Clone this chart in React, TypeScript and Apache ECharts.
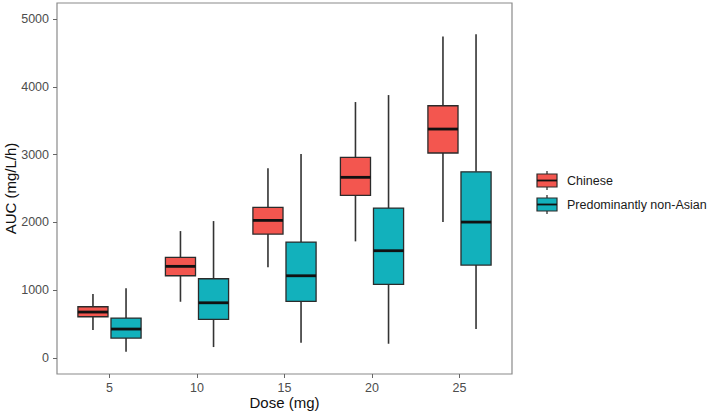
import React, { useEffect, useRef } from "react";
import * as echarts from "echarts";

const doses = [5, 10, 15, 20, 25];
const doseTicks = [5, 10, 15, 20, 25];
const aucTicks = [0, 1000, 2000, 3000, 4000, 5000];
// [low, q1, median, q3, high]
const chinese = [
  [409, 606, 675, 753, 941],
  [827, 1211, 1350, 1483, 1871],
  [1335, 1827, 2029, 2221, 2798],
  [1719, 2399, 2665, 2960, 3777],
  [2004, 3024, 3378, 3722, 4747],
];
const nonAsian = [
  [89, 291, 424, 586, 1025],
  [158, 567, 812, 1167, 2019],
  [222, 833, 1211, 1709, 3009],
  [207, 1084, 1581, 2211, 3880],
  [424, 1369, 2004, 2747, 4777],
];
const groupNames = ["Chinese", "Predominantly non-Asian"];
const groupColors = ["#F3564F", "#12B1BC"];

const FONT = "Liberation Sans, Arial, sans-serif";

function makeRender(offset: number, halfW: number, color: string) {
  return (params: any, api: any) => {
    const x = api.value(0) + offset;
    const low = api.value(1);
    const q1 = api.value(2);
    const med = api.value(3);
    const q3 = api.value(4);
    const high = api.value(5);
    const pHigh = api.coord([x, high]);
    const pQ3 = api.coord([x, q3]);
    const pQ1 = api.coord([x, q1]);
    const pLow = api.coord([x, low]);
    const pL = api.coord([x - halfW, q3]);
    const pR = api.coord([x + halfW, q1]);
    const pMedL = api.coord([x - halfW, med]);
    const pMedR = api.coord([x + halfW, med]);
    const stroke = "#2b2b2b";
    return {
      type: "group",
      children: [
        {
          type: "line",
          shape: { x1: pHigh[0], y1: pHigh[1], x2: pQ3[0], y2: pQ3[1] },
          style: { stroke: "#333", lineWidth: 1.6 },
        },
        {
          type: "line",
          shape: { x1: pQ1[0], y1: pQ1[1], x2: pLow[0], y2: pLow[1] },
          style: { stroke: "#333", lineWidth: 1.6 },
        },
        {
          type: "rect",
          shape: { x: pL[0], y: pL[1], width: pR[0] - pL[0], height: pR[1] - pL[1] },
          style: { fill: color, stroke: stroke, lineWidth: 1.3 },
        },
        {
          type: "line",
          shape: { x1: pMedL[0], y1: pMedL[1], x2: pMedR[0], y2: pMedR[1] },
          style: { stroke: "#111", lineWidth: 2.8 },
        },
      ],
    };
  };
}

function legendItem(y: number, color: string, label: string) {
  const x = 537;
  const w = 20;
  const h = 13;
  return {
    type: "group",
    children: [
      { type: "line", shape: { x1: x + w / 2, y1: y - h / 2 - 3, x2: x + w / 2, y2: y + h / 2 + 3 }, style: { stroke: "#333", lineWidth: 1.3 } },
      { type: "rect", shape: { x, y: y - h / 2, width: w, height: h }, style: { fill: color, stroke: "#2b2b2b", lineWidth: 1.2 } },
      { type: "line", shape: { x1: x, y1: y, x2: x + w, y2: y }, style: { stroke: "#111", lineWidth: 1.8 } },
      { type: "text", x: 567, y, style: { text: label, fill: "#1a1a1a", font: `12.5px ${FONT}`, verticalAlign: "middle", align: "left" } },
    ],
  };
}

export default function App() {
  const ref = useRef<HTMLDivElement>(null);
  useEffect(() => {
    const chart = echarts.init(ref.current!, null, { renderer: "svg" });
    const offset = 0.945;
    const halfW = 0.86;
    chart.setOption({
      animation: false,
      backgroundColor: "#ffffff",
      grid: {
        left: 57,
        right: 197,
        top: 3,
        bottom: 41,
        show: true,
        borderColor: "#8a8a8a",
        borderWidth: 1.2,
        backgroundColor: "#ffffff",
        outerBoundsMode: "none",
      },
      xAxis: {
        type: "value",
        min: 2,
        max: 28,
        name: "Dose (mg)",
        nameLocation: "middle",
        nameGap: 21,
        nameMoveOverlap: false,
        nameTextStyle: { fontFamily: FONT, fontSize: 15, color: "#111", verticalAlign: "top" },
        axisLine: { show: false, onZero: false },
        splitLine: { show: false },
        axisTick: { show: true, length: 4, lineStyle: { color: "#666" }, customValues: doseTicks },
        axisLabel: { fontFamily: FONT, fontSize: 12.5, color: "#4d4d4d", margin: 7, customValues: doseTicks, formatter: (v: number) => String(v) },
      },
      yAxis: {
        type: "value",
        min: -240,
        max: 5240,
        name: "AUC (mg/L/h)",
        nameLocation: "middle",
        nameGap: 39,
        nameMoveOverlap: false,
        nameTextStyle: { fontFamily: FONT, fontSize: 15, color: "#111", verticalAlign: "bottom" },
        axisLine: { show: false, onZero: false },
        splitLine: { show: false },
        axisTick: { show: true, length: 4, lineStyle: { color: "#666" }, customValues: aucTicks },
        axisLabel: { fontFamily: FONT, fontSize: 12.5, color: "#4d4d4d", margin: 8, customValues: aucTicks, formatter: (v: number) => String(v) },
      },
      series: [
        {
          type: "custom",
          name: groupNames[0],
          renderItem: makeRender(-offset, halfW, groupColors[0]),
          encode: { x: 0, y: [1, 2, 3, 4, 5] },
          data: doses.map((d, i) => [d, ...chinese[i]]),
          clip: false,
        },
        {
          type: "custom",
          name: groupNames[1],
          renderItem: makeRender(offset, halfW, groupColors[1]),
          encode: { x: 0, y: [1, 2, 3, 4, 5] },
          data: doses.map((d, i) => [d, ...nonAsian[i]]),
          clip: false,
        },
      ],
      graphic: [legendItem(180.5, groupColors[0], groupNames[0]), legendItem(204.5, groupColors[1], groupNames[1])],
    });
    return () => chart.dispose();
  }, []);
  return (
    <div
      ref={ref}
      style={{ position: "absolute", left: 0, top: 0, width: 709, height: 415 }}
    />
  );
}
